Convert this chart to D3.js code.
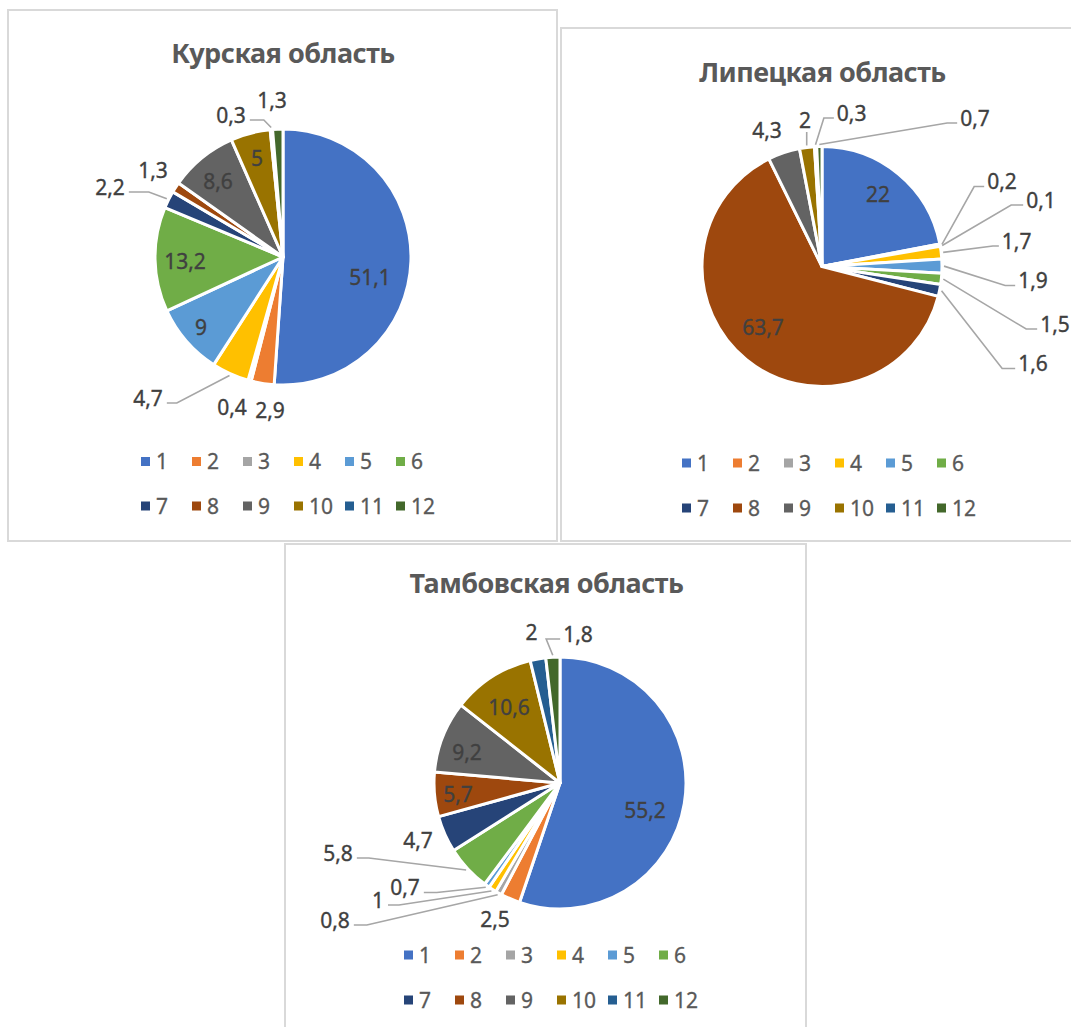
<!DOCTYPE html>
<html><head><meta charset="utf-8">
<script src="https://cdn.jsdelivr.net/npm/d3@7"></script>
<style>
html,body{margin:0;padding:0;background:#fff;}
svg{display:block;}
text{font-family:"Noto Sans","Open Sans",sans-serif;}
</style></head><body>
<svg id="chart" width="1071" height="1027"></svg>
<script>
// ---------- data ----------
const categories = ["1","2","3","4","5","6","7","8","9","10","11","12"];
const kurskValues   = [51.1, 2.9, 0.4, 4.7, 9, 13.2, 2.2, 1.3, 8.6, 5, 0.3, 1.3];
const lipetskValues = [22, 0.2, 0.1, 1.7, 1.9, 1.5, 1.6, 63.7, 4.3, 2, 0.3, 0.7];
const tambovValues  = [55.2, 2.5, 0.8, 1, 0.7, 5.8, 4.7, 5.7, 9.2, 10.6, 2, 1.8];
const regionTitles = ["Курская область", "Липецкая область", "Тамбовская область"];
const sliceColors = ["#4472C4","#ED7D31","#A5A5A5","#FFC000","#5B9BD5","#70AD47",
                     "#264478","#9E480E","#636363","#997300","#255E91","#43682B"];

// ---------- layout (positions only) ----------
// label placement: [dx, dy from pie centre, leader side, elbow length]
const panels = [
  { title: regionTitles[0], values: kurskValues,
    box: [8, 10, 549, 531], titleX: 283, titleY: 63,
    cx: 283, cy: 257, r: 128, legendX: 141, legendY: [461.5, 506],
    labels: [[87,20],[-13,153],[-51,150],[-135,141,"R",10],[-82,70],[-98,4],
             [-173,-70,"R",20],[-130,-87],[-65,-76],[-26,-99],[-52,-142,"R",14],[-11,-157]] },
  { title: regionTitles[1], values: lipetskValues,
    box: [561, 28, 540, 513], titleX: 822.5, titleY: 82,
    cx: 822, cy: 266.5, r: 120, legendX: 682, legendY: [463, 508],
    labels: [[56,-72.5],[180,-85,"L",10],[219,-66.5,"L",12],[194.7,-25.5,"L",6],[211,14,"L",10],
             [233,57.5,"L",11],[211,97,"L",13],[-59,60.5],[-55,-136.5],[-17,-146.5,"B"],
             [29.7,-153.5,"L",10],[153,-148.5,"L",10]] },
  { title: regionTitles[2], values: tambovValues,
    box: [285, 544, 521, 500], titleX: 546.5, titleY: 593,
    cx: 560, cy: 783, r: 126, legendX: 404, legendY: [955, 1000],
    labels: [[85,27.5],[-65,136],[-225,137,"R",13],[-182,117,"R",11],[-155,104.5,"R",13],
             [-222,70,"R",12],[-142,57],[-102,11],[-93,-31],[-51,-75.5],[-28.5,-150.5],[18,-149,"L",14]] }
];

const svg = d3.select("#chart");
svg.append("rect").attr("width",1071).attr("height",1027).attr("fill","#fff");

const fmt = v => String(v).replace(".", ",");
const pie = d3.pie().sort(null).value(d => d);

panels.forEach(p => {
  const g = svg.append("g");
  g.append("rect")
    .attr("x", p.box[0]).attr("y", p.box[1]).attr("width", p.box[2]).attr("height", p.box[3])
    .attr("fill", "#fff").attr("stroke", "#d9d9d9").attr("stroke-width", 2);

  g.append("text").attr("x", p.titleX).attr("y", p.titleY)
    .attr("text-anchor", "middle").attr("font-size", 27).attr("font-weight", 700)
    .attr("letter-spacing", "-0.5px")
    .attr("fill", "#595959").text(p.title);

  const arcs = pie(p.values);
  const arc = d3.arc().innerRadius(0).outerRadius(p.r);
  const pg = g.append("g").attr("transform", `translate(${p.cx},${p.cy})`);
  pg.selectAll("path").data(arcs).enter().append("path")
    .attr("d", arc)
    .attr("fill", (d, i) => sliceColors[i])
    .attr("stroke", "#fff").attr("stroke-width", 3).attr("stroke-linejoin", "round");

  // labels + leaders
  const lg = g.append("g");
  arcs.forEach((d, i) => {
    const L = p.labels[i];
    const lx = p.cx + L[0], ly = p.cy + L[1];
    const t = lg.append("text").attr("x", lx).attr("y", ly).attr("dy", "0.36em")
      .attr("text-anchor", "middle").attr("font-size", 21).attr("fill", "#404040")
      .attr("stroke", "#404040").attr("stroke-width", 0.35)
      .text(fmt(p.values[i]));
    const side = L[2];
    if (side) {
      const w = t.node().getComputedTextLength();
      const mid = (d.startAngle + d.endAngle) / 2;
      const ex = p.cx + (p.r + 2) * Math.sin(mid), ey = p.cy - (p.r + 2) * Math.cos(mid);
      let pts;
      const el = L[3] || 12;
      if (side === "R") {
        const ax = lx + w / 2 + 4, ay = ly + 5;
        pts = [[ax, ay], [ax + el, ay], [ex, ey]];
      } else if (side === "L") {
        const ax = lx - w / 2 - 3, ay = ly + 5;
        pts = [[ax, ay], [ax - el, ay], [ex, ey]];
      } else {
        pts = [[ex, ly + 12], [ex, ey]];
      }
      lg.insert("path", "text").attr("d", d3.line()(pts))
        .attr("fill", "none").attr("stroke", "#a6a6a6").attr("stroke-width", 1.6);
    }
  });

  // legend
  const leg = g.append("g");
  categories.forEach((c, i) => {
    const row = Math.floor(i / 6), col = i % 6;
    const x = p.legendX + col * 51, y = p.legendY[row];
    leg.append("rect").attr("x", x).attr("y", y - 4.5).attr("width", 9).attr("height", 9)
      .attr("fill", sliceColors[i]);
    leg.append("text").attr("x", x + 15).attr("y", y).attr("dy", "0.36em")
      .attr("font-size", 21).attr("fill", "#595959")
      .attr("stroke", "#595959").attr("stroke-width", 0.3).text(c);
  });
});
</script>
</body></html>
